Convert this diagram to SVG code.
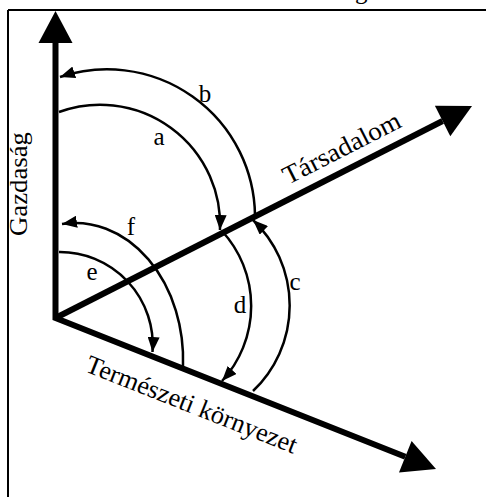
<svg xmlns="http://www.w3.org/2000/svg" width="486" height="497" viewBox="0 0 486 497">
<style>
.axis{fill:none;stroke:#000;stroke-width:6;stroke-linejoin:miter}
.head{fill:#000;stroke:none}
.arc{fill:none;stroke:#000;stroke-width:2.5;marker-end:url(#ah)}
.lbl{font-family:"Liberation Serif","Times New Roman",serif;font-size:25px;fill:#000}
.ax{font-family:"Liberation Serif","Times New Roman",serif;font-size:26px;fill:#000}
</style>
<defs>
<marker id="ah" markerUnits="userSpaceOnUse" viewBox="0 0 15 12" markerWidth="15" markerHeight="12" refX="15" refY="6" orient="auto">
<path d="M0,0 L15,6 L0,12 z" fill="#000"/>
</marker>
</defs>
<rect width="486" height="497" fill="#fff"/>
<g id="frame">
<path d="M8,10 H486 M8,10 V497" fill="none" stroke="#000" stroke-width="2"/>
<text class="lbl" x="355" y="-1">g</text>
</g>
<g id="connectors">
<path class="axis" d="M55.5,42 L55.5,318 L405.3,456.8"/>
<path class="axis" d="M55.5,318 L442.6,121"/>
<polygon class="head" points="55.5,11 38.5,43 72.5,43"/>
<polygon class="head" points="472,106 434.9,105.8 450.3,136.2"/>
<polygon class="head" points="436,469 411.6,441 399,472.6"/>
<path id="arc-a" class="arc" d="M59,112 A120,120 0 0 1 220,230"/>
<path id="arc-b" class="arc" d="M255,215 A148,148 0 0 0 60,77"/>
<path id="arc-c" class="arc" d="M253,391 A118,118 0 0 0 253,220"/>
<path id="arc-d" class="arc" d="M222,231 A111,111 0 0 1 222,381"/>
<path id="arc-e" class="arc" d="M59,252 A93,93 0 0 1 152.5,352"/>
<path id="arc-f" class="arc" d="M183,366 A108,137 0 0 0 62,224"/>
</g>
<g id="gazdasag">
<text class="ax" transform="translate(27,236) rotate(-90)" textLength="104" lengthAdjust="spacingAndGlyphs">Gazdaság</text>
</g>
<g id="tarsadalom">
<text class="ax" transform="translate(288,185) rotate(-27)" textLength="129" lengthAdjust="spacingAndGlyphs">Társadalom</text>
</g>
<g id="kornyezet">
<text class="ax" transform="translate(84,371) rotate(21.6)" textLength="225" lengthAdjust="spacingAndGlyphs">Természeti környezet</text>
</g>
<g id="labels">
<text class="lbl" x="159" y="145" text-anchor="middle">a</text>
<text class="lbl" x="205" y="102" text-anchor="middle">b</text>
<text class="lbl" x="295" y="290" text-anchor="middle">c</text>
<text class="lbl" x="240" y="313" text-anchor="middle">d</text>
<text class="lbl" x="92" y="280" text-anchor="middle">e</text>
<text class="lbl" x="131" y="235" text-anchor="middle">f</text>
</g>
</svg>
